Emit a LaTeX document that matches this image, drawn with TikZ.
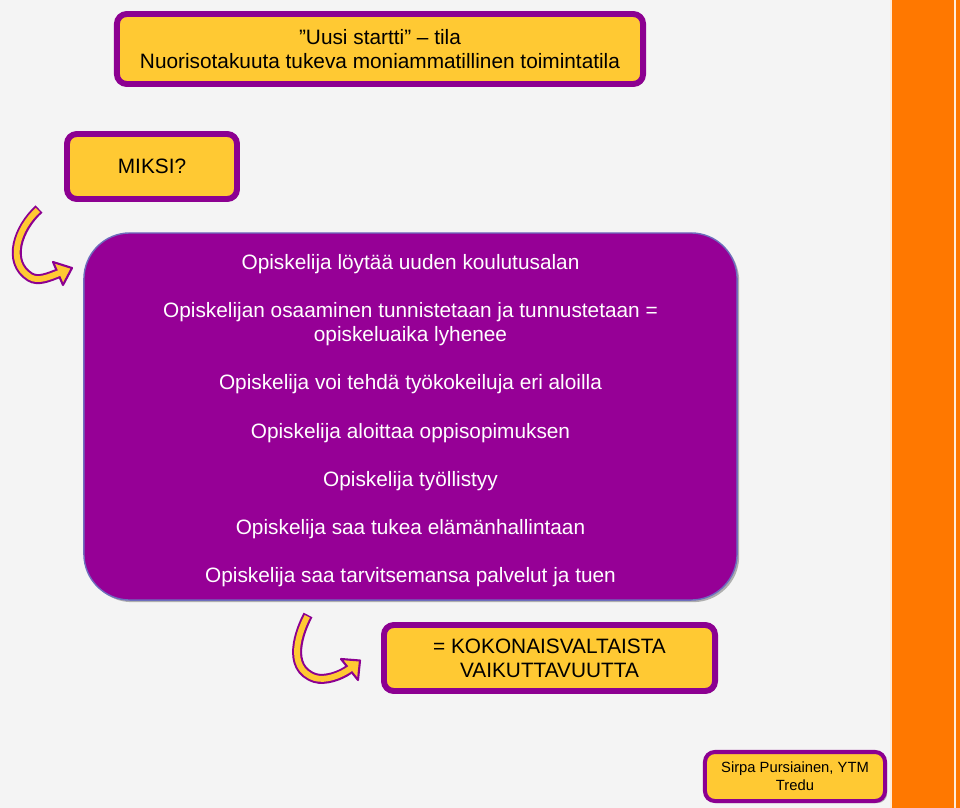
\documentclass[tikz,border=0pt]{standalone}
\usepackage{fontspec}
\setmainfont{Liberation Sans}
\usetikzlibrary{shadows}

\definecolor{boxyellow}{RGB}{255,201,51}
\definecolor{boxpurple}{RGB}{140,0,145}
\definecolor{bigpurple}{RGB}{150,0,150}
\definecolor{bigedge}{RGB}{110,110,190}
\definecolor{pagegray}{RGB}{244,244,244}
\definecolor{stripe}{RGB}{255,120,0}

\begin{document}
\begin{tikzpicture}[
  x=0.025cm, y=-0.025cm,
  textbox/.style={draw=boxpurple, fill=boxyellow, line width=4.2pt,
    rounded corners=7pt, align=center, inner sep=0pt,
    font=\fontsize{14.8}{17}\selectfont,
    drop shadow={shadow xshift=1.5pt, shadow yshift=-1.5pt, fill=black!50, opacity=0.6}},
  bigbox/.style={draw=bigedge, fill=bigpurple, line width=1pt,
    rounded corners=1.15cm, align=center, inner sep=0pt, text=white,
    font=\fontsize{14.8}{17.1}\selectfont,
    drop shadow={shadow xshift=1.5pt, shadow yshift=-1.5pt, fill=black!50, opacity=0.6}},
  bandout/.style={draw=boxpurple, line width=7.1pt},
  bandin/.style={draw=boxyellow, line width=4.2pt, shorten <=1.1pt, shorten >=-1.6pt},
  headtip/.style={draw=boxpurple, fill=boxyellow, line width=1.5pt, line join=round}
]
% page
\fill[pagegray] (0,0) rectangle (960,808);
\useasboundingbox (0,0) rectangle (960,808);
\fill[stripe] (891,0) rectangle (960,808);
\draw[white!85!stripe, line width=0.8pt] (891,0) -- (891,808);
\draw[white!85!stripe, line width=0.8pt] (955,0) -- (955,808);

% boxes
\node[textbox, minimum width=13.15cm, minimum height=1.75cm] (title) at (380,49)
  {”Uusi startti” – tila\\Nuorisotakuuta tukeva moniammatillinen toimintatila};
\node[textbox, minimum width=4.25cm, minimum height=1.625cm] (miksi) at (152,166.5) {MIKSI?};
\node[bigbox, minimum width=16.325cm, minimum height=9.175cm] (reasons) at (410.5,416.5)
  {\rule{0pt}{16.6pt}Opiskelija löytää uuden koulutusalan\\[17.1pt]
   Opiskelijan osaaminen tunnistetaan ja tunnustetaan =\\
   opiskeluaika lyhenee\\[17.1pt]
   Opiskelija voi tehdä työkokeiluja eri aloilla\\[17.1pt]
   Opiskelija aloittaa oppisopimuksen\\[17.1pt]
   Opiskelija työllistyy\\[17.1pt]
   Opiskelija saa tukea elämänhallintaan\\[17.1pt]
   Opiskelija saa tarvitsemansa palvelut ja tuen};
\node[textbox, minimum width=8.275cm, minimum height=1.65cm] (result) at (549.5,658)
  {= KOKONAISVALTAISTA\\VAIKUTTAVUUTTA};
\node[textbox, line width=2.85pt, minimum width=4.5cm, minimum height=1.225cm,
  font=\fontsize{10.5}{13}\selectfont] (author) at (795,776.5)
  {Sirpa Pursiainen, YTM\\Tredu};

% curled arrows
\draw[bandout] (39,209) .. controls (18,228) and (6,262) .. (30,277)
  .. controls (38,282) and (49,277) .. (58,273.5);
\filldraw[headtip] (53,262) -- (72,268) -- (63,285) -- cycle;
\draw[bandin] (39,209) .. controls (18,228) and (6,262) .. (30,277)
  .. controls (38,282) and (49,277) .. (58,273.5);

\draw[bandout] (308,615) .. controls (300,630) and (285,668) .. (315,678)
  .. controls (325,681) and (340,676) .. (349,669.5);
\filldraw[headtip] (341,659) -- (360,660.5) -- (358,680) -- cycle;
\draw[bandin] (308,615) .. controls (300,630) and (285,668) .. (315,678)
  .. controls (325,681) and (340,676) .. (349,669.5);
\end{tikzpicture}
\end{document}
